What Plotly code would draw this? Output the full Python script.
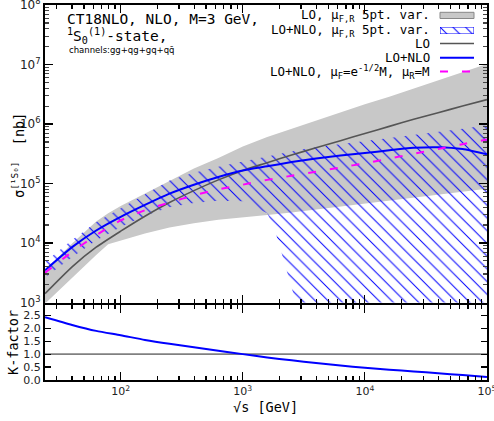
import math
import plotly.graph_objects as go

# ---------------- data ----------------
sqrt_s = [24, 40, 63, 100, 158, 251, 398, 631, 1000, 1585, 2512, 3981, 6310,
          10000, 15849, 25119, 39811, 63096, 100000]
sigma_lo = [1.41e3, 3.98e3, 8.5e3, 1.58e4, 2.82e4, 4.79e4, 7.59e4, 1.15e5, 1.66e5,
            2.24e5, 3.02e5, 3.98e5, 5.25e5, 6.92e5, 9.12e5, 1.20e6, 1.55e6, 2.0e6, 2.57e6]
sigma_nlo = [3.47e3, 8.51e3, 1.62e4, 2.75e4, 4.37e4, 6.76e4, 9.55e4, 1.29e5, 1.66e5,
             1.95e5, 2.29e5, 2.63e5, 2.95e5, 3.24e5, 3.63e5, 3.98e5, 4.07e5, 3.80e5, 3.09e5]
sigma_nlo_mu = [3.16e3, 7.08e3, 1.35e4, 2.40e4, 3.55e4, 4.79e4, 6.31e4, 7.94e4, 9.55e4,
                1.15e5, 1.35e5, 1.58e5, 1.86e5, 2.19e5, 2.63e5, 3.16e5, 3.80e5, 4.57e5, 5.50e5]
k_factor = [2.43, 2.13, 1.90, 1.73, 1.55, 1.40, 1.27, 1.13, 1.00, 0.87, 0.76, 0.66, 0.56,
            0.47, 0.40, 0.33, 0.26, 0.19, 0.12]
k_ref_s = [24, 100000]
k_ref = [1.0, 1.0]

lo_band_s = [24, 40, 63, 79, 100, 158, 251, 398, 631, 1000, 1585, 2512, 3981, 6310,
             10000, 15849, 25119, 39811, 63096, 100000]
lo_band_hi = [3.47e3, 9.77e3, 2.29e4, 3.16e4, 4.17e4, 6.76e4, 1.12e5, 1.78e5, 2.69e5, 4.17e5,
              6.03e5, 8.32e5, 1.15e6, 1.58e6, 2.14e6, 2.88e6, 3.98e6, 5.37e6, 7.41e6, 1.02e7]
lo_band_lo = [955, 2.63e3, 6.31e3, 9.55e3, 1.10e4, 1.45e4, 1.82e4, 2.14e4, 2.45e4, 2.69e4,
              2.95e4, 3.24e4, 3.63e4, 4.07e4, 4.57e4, 5.13e4, 5.75e4, 6.46e4, 7.24e4, 8.13e4]

nlo_band_s = [24, 40, 63, 100, 158, 251, 398, 631, 1000, 1585, 1820, 2754, 3162, 3981,
              6310, 10000, 15849, 25119, 39811, 63096, 100000]
nlo_band_hi = [4.79e3, 1.12e4, 2.24e4, 3.80e4, 6.61e4, 1.12e5, 1.51e5, 1.91e5, 2.34e5, 2.82e5,
               3.02e5, 3.63e5, 3.80e5, 4.07e5, 4.57e5, 5.13e5, 5.75e5, 6.46e5, 7.24e5, 8.32e5, 9.55e5]
nlo_band_lo = [2.63e3, 5.75e3, 1.10e4, 1.86e4, 2.88e4, 3.98e4, 4.68e4, 5.13e4, 5.01e4, 3.16e4,
               1.74e4, 933, 1, 1, 1, 1, 1, 1, 1, 1, 1]

x_tick_vals = [100, 1000, 10000, 100000]
x_tick_text = ["10<sup>2</sup>", "10<sup>3</sup>", "10<sup>4</sup>", "10<sup>5</sup>"]
y_tick_vals = [1e3, 1e4, 1e5, 1e6, 1e7, 1e8]
y_tick_text = ["10<sup>3</sup>", "10<sup>4</sup>", "10<sup>5</sup>", "10<sup>6</sup>",
               "10<sup>7</sup>", "10<sup>8</sup>"]
k_tick_vals = [0.0, 0.5, 1.0, 1.5, 2.0, 2.5]
k_tick_text = ["0.0", "0.5", "1.0", "1.5", "2.0", "2.5"]

legend_labels = [
    "LO, μ<sub>F,R</sub> 5pt. var.",
    "LO+NLO, μ<sub>F,R</sub> 5pt. var.",
    "LO",
    "LO+NLO",
    "LO+NLO, μ<sub>F</sub>=e<sup>-1/2</sup>M, μ<sub>R</sub>=M",
]

# ---------------- styling / layout ----------------
W, H = 494, 421
ML, MR, MT, MB = 45, 7, 5, 41
PW, PH = W - ML - MR, H - MT - MB
MONO = "DejaVu Sans Mono"
SANS = "DejaVu Sans"
BLUE = "#0000ff"
GRAY_LINE = "#555555"
BAND_GRAY = "#c8c8c8"
MAGENTA = "#ff00ff"
HATCH = dict(shape="\\", fgcolor=BLUE, fgopacity=1, bgcolor="rgba(0,0,0,0)", size=9, solidity=0.11)


def px(xp):
    return (xp - ML) / PW


def py(yp):
    return (H - MB - yp) / PH


top_domain = [py(302.5), 1.0]
bot_domain = [0.0, py(305)]

fig = go.Figure()

# LO scale band
fig.add_trace(go.Scatter(
    x=lo_band_s + lo_band_s[::-1], y=lo_band_hi + lo_band_lo[::-1],
    fill="toself", fillcolor=BAND_GRAY, line=dict(width=0), mode="lines",
    hoverinfo="skip", showlegend=False, xaxis="x", yaxis="y"))

# LO+NLO scale band (hatched)
fig.add_trace(go.Scatter(
    x=nlo_band_s + nlo_band_s[::-1], y=nlo_band_hi + nlo_band_lo[::-1],
    fill="toself", fillcolor="rgba(0,0,0,0)", fillpattern=HATCH,
    line=dict(width=0, color=BLUE), mode="lines",
    hoverinfo="skip", showlegend=False, xaxis="x", yaxis="y"))

fig.add_trace(go.Scatter(x=sqrt_s, y=sigma_lo, mode="lines",
                         line=dict(color=GRAY_LINE, width=1.6, shape="spline", smoothing=0.6),
                         showlegend=False, xaxis="x", yaxis="y"))
fig.add_trace(go.Scatter(x=sqrt_s, y=sigma_nlo, mode="lines",
                         line=dict(color=BLUE, width=2, shape="spline", smoothing=0.6),
                         showlegend=False, xaxis="x", yaxis="y"))
fig.add_trace(go.Scatter(x=sqrt_s, y=sigma_nlo_mu, mode="lines",
                         line=dict(color=MAGENTA, width=2, dash="8px,14px", shape="spline", smoothing=0.6),
                         showlegend=False, xaxis="x", yaxis="y"))

# K-factor panel
fig.add_trace(go.Scatter(x=k_ref_s, y=k_ref, mode="lines",
                         line=dict(color="#808080", width=1.6),
                         showlegend=False, xaxis="x2", yaxis="y2"))
fig.add_trace(go.Scatter(x=sqrt_s, y=k_factor, mode="lines",
                         line=dict(color=BLUE, width=2, shape="spline", smoothing=0.6),
                         showlegend=False, xaxis="x2", yaxis="y2"))

# legend hatched sample on a hidden mini-axis
leg_x0, leg_x1 = 440, 474
fig.add_trace(go.Scatter(
    x=[0, 1, 1, 0, 0], y=[0, 0, 1, 1, 0], fill="toself", fillcolor="rgba(0,0,0,0)",
    fillpattern=HATCH, line=dict(color=BLUE, width=1), mode="lines", hoverinfo="skip",
    showlegend=False, xaxis="x3", yaxis="y3"))

xr = [math.log10(sqrt_s[0]), 5.0004]
minor_x = [m * 10 ** d for d in range(1, 5) for m in range(2, 10)]
minor_y = [m * 10 ** d for d in range(3, 8) for m in range(2, 10)]

axis_common = dict(showline=True, linecolor="black", linewidth=2, mirror="allticks",
                   ticks="inside", tickcolor="black", showgrid=False, zeroline=False,
                   automargin=False, ticklabeloverflow="allow")

fig.update_layout(
    width=W, height=H, margin=dict(l=ML, r=MR, t=MT, b=MB, autoexpand=False),
    paper_bgcolor="white", plot_bgcolor="white", showlegend=False,
    xaxis=dict(axis_common, type="log", range=xr, domain=[0, 1], anchor="y",
               tickmode="array", tickvals=x_tick_vals, ticktext=x_tick_text,
               showticklabels=False, ticklen=8, tickwidth=1.2,
               minor=dict(ticks="inside", ticklen=4, tickcolor="black",
                          tickmode="array", tickvals=minor_x)),
    yaxis=dict(axis_common, type="log", range=[2.9996, 8.0004], domain=top_domain, anchor="x",
               tickmode="array", tickvals=y_tick_vals, ticktext=y_tick_text,
               ticklen=8, tickwidth=1.2,
               tickfont=dict(family=SANS, size=12, color="#222"),
               minor=dict(ticks="inside", ticklen=4, tickcolor="#444",
                          tickmode="array", tickvals=minor_y)),
    xaxis2=dict(axis_common, type="log", range=xr, domain=[0, 1], anchor="y2",
                tickmode="array", tickvals=x_tick_vals, ticktext=x_tick_text,
                ticklen=8, tickwidth=1.2,
                tickfont=dict(family=SANS, size=11, color="#222"),
                minor=dict(ticks="inside", ticklen=4, tickcolor="black",
                           tickmode="array", tickvals=minor_x)),
    yaxis2=dict(axis_common, range=[-0.0005, 2.9], domain=bot_domain, anchor="x2",
                tickmode="array", tickvals=k_tick_vals, ticktext=k_tick_text,
                ticklen=6, tickwidth=1.2,
                tickfont=dict(family=SANS, size=11, color="#222")),
    xaxis3=dict(domain=[px(leg_x0), px(leg_x1)], range=[0, 1], anchor="y3", visible=False,
                fixedrange=True),
    yaxis3=dict(domain=[py(34), py(27)], range=[0, 1], anchor="x3", visible=False,
                fixedrange=True),
)

ann = []
# title block
ann.append(dict(x=px(65), y=py(19), text="CT18NLO, NLO, M=3 GeV,",
                font=dict(family=MONO, size=14.5, color="black")))
ann.append(dict(x=px(65), y=py(36), text="<sup>1</sup>S<sub>0</sub><sup>(1)</sup>-state,",
                font=dict(family=MONO, size=14.5, color="black")))
ann.append(dict(x=px(67), y=py(49.5), text="channels:gg+qg+gq+qq\u0304",
                font=dict(family=SANS, size=8.5, color="black")))
for a in ann:
    a.update(xref="paper", yref="paper", xanchor="left", yanchor="middle", showarrow=False)

# legend texts
leg_rows = [15.3, 30.7, 43.5, 57.7, 71.5]
for lab, yr in zip(legend_labels, leg_rows):
    ann.append(dict(x=px(432), y=py(yr), text=lab, xref="paper", yref="paper",
                    xanchor="right", yanchor="middle", showarrow=False,
                    font=dict(family=MONO, size=12.5, color="black")))

# axis titles
ann.append(dict(x=px(18), y=py(156), text="σ<sup>[¹S₀]</sup>  [nb]", textangle=-90,
                xref="paper", yref="paper", xanchor="center", yanchor="middle", showarrow=False,
                font=dict(family=MONO, size=13.5, color="black")))
ann.append(dict(x=px(13), y=py(343), text="K-factor", textangle=-90,
                xref="paper", yref="paper", xanchor="center", yanchor="middle", showarrow=False,
                font=dict(family=MONO, size=13.5, color="black")))
ann.append(dict(x=px(265), y=py(407), text="√s [GeV]",
                xref="paper", yref="paper", xanchor="center", yanchor="middle", showarrow=False,
                font=dict(family=MONO, size=13.5, color="black")))
fig.update_layout(annotations=ann)

# legend samples (shapes in paper coordinates)
shapes = [
    dict(type="rect", x0=px(leg_x0), x1=px(leg_x1), y0=py(18.5), y1=py(12.3),
         fillcolor=BAND_GRAY, line=dict(color="#888888", width=1)),
    dict(type="line", x0=px(leg_x0), x1=px(leg_x1), y0=py(43.5), y1=py(43.5),
         line=dict(color=GRAY_LINE, width=1.6)),
    dict(type="line", x0=px(leg_x0), x1=px(leg_x1), y0=py(57.7), y1=py(57.7),
         line=dict(color=BLUE, width=2)),
    dict(type="line", x0=px(leg_x0), x1=px(leg_x1), y0=py(71.5), y1=py(71.5),
         line=dict(color=MAGENTA, width=2, dash="8px,14px")),
]
for s in shapes:
    s.update(xref="paper", yref="paper")
fig.update_layout(shapes=shapes)

fig.write_html("out.html", config={"displayModeBar": False, "staticPlot": True},
               post_script="document.body.style.margin='0';")
